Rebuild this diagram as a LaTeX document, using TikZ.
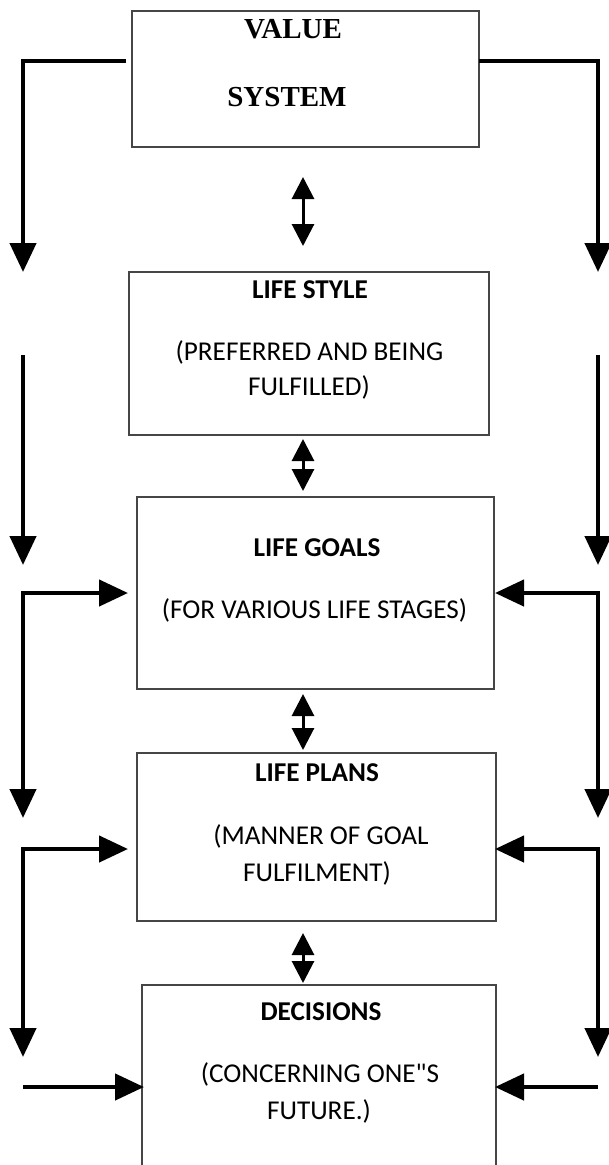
\documentclass[tikz,border=0pt]{standalone}
\usepackage{fontspec}
\newfontfamily\calfont{Carlito}
\newfontfamily\timesfont{Liberation Serif}
\usetikzlibrary{arrows.meta}
\definecolor{boxgray}{RGB}{70,70,70}
\begin{document}
\begin{tikzpicture}[x=1pt,y=-1pt,
  box/.style={draw=boxgray, line width=1.1pt, inner sep=0pt, outer sep=0pt},
  thk/.style={line width=4.4pt, line join=miter, -{Triangle[length=29pt,width=26pt]}},
  thkb/.style={line width=4.4pt, line join=miter, {Triangle[length=29pt,width=26pt]}-{Triangle[length=29pt,width=26pt]}},
  dbl/.style={line width=3pt, {Triangle[length=22pt,width=22pt]}-{Triangle[length=22pt,width=22pt]}},
  ttl/.style={font=\calfont\fontsize{27.2}{30}\selectfont\bfseries, anchor=base, inner sep=0pt},
  subt/.style={font=\calfont\fontsize{27.2}{30}\selectfont, anchor=base, inner sep=0pt},
  serift/.style={font=\timesfont\fontsize{29}{30}\selectfont\bfseries, anchor=base, inner sep=0pt}]
\useasboundingbox (0,0) rectangle (609,1165);
\clip (0,0) rectangle (609,1165);
% boxes
\node[box, minimum width=347pt, minimum height=136pt] (vs) at (305.5,79) {};
\node[box, minimum width=360pt, minimum height=163pt] (ls) at (309,353.5) {};
\node[box, minimum width=357pt, minimum height=192pt] (lg) at (315.5,593) {};
\node[box, minimum width=359pt, minimum height=168pt] (lp) at (316.5,837) {};
\node[box, minimum width=354pt, minimum height=200pt] (dc) at (319,1085) {};
% texts
\node[serift] (t1) at (293,38) {VALUE};
\node[serift] (t2) at (287,106) {SYSTEM};
\node[ttl] (t3) at (310,298) {LIFE STYLE};
\node[subt] (t4) at (309.5,360) {(PREFERRED AND BEING};
\node[subt] (t5) at (309,395) {FULFILLED)};
\node[ttl] (t6) at (317,556) {LIFE GOALS};
\node[subt] (t7) at (314.5,618) {(FOR VARIOUS LIFE STAGES)};
\node[ttl] (t8) at (317,781) {LIFE PLANS};
\node[subt] (t9) at (321,844) {(MANNER OF GOAL};
\node[subt] (t10) at (317,881) {FULFILMENT)};
\node[ttl] (t11) at (321,1020) {DECISIONS};
\node[subt] (t12) at (320,1082) {(CONCERNING ONE"S};
\node[subt] (t13) at (319,1119) {FUTURE.)};
% coordinates
\coordinate (mid) at (303,0);
\coordinate (cL0) at (23,61);   \coordinate (cR0) at (598,61);
\coordinate (eL1) at (23,272);  \coordinate (eR1) at (598,272);
\coordinate (sL2) at (23,355);  \coordinate (sR2) at (598,355);
\coordinate (eL2) at (23,565);  \coordinate (eR2) at (598,565);
\coordinate (cL3) at (23,593);  \coordinate (cR3) at (598,593);
\coordinate (eL3) at (23,818);  \coordinate (eR3) at (598,818);
\coordinate (cL4) at (23,849);  \coordinate (cR4) at (598,849);
\coordinate (eL4) at (23,1057); \coordinate (eR4) at (598,1057);
\coordinate (sL5) at (23,1087); \coordinate (sR5) at (598,1087);
% double arrows between boxes
\draw[dbl, shorten <=30pt, shorten >=26pt] (vs.south -| mid) -- (ls.north -| mid);
\draw[dbl, shorten <=4pt, shorten >=6pt] (ls.south -| mid) -- (lg.north -| mid);
\draw[dbl, shorten <=5pt, shorten >=3pt] (lg.south -| mid) -- (lp.north -| mid);
\draw[dbl, shorten <=12pt, shorten >=2pt] (lp.south -| mid) -- (dc.north -| mid);
% side connectors
\draw[thk] ([xshift=-6pt]vs.west |- cL0) -- (cL0) -- (eL1);
\draw[thk] (vs.east |- cR0) -- (cR0) -- (eR1);
\draw[thk] (sL2) -- (eL2);
\draw[thk] (sR2) -- (eR2);
\draw[thkb] ([xshift=-9pt]lg.west |- cL3) -- (cL3) -- (eL3);
\draw[thkb] ([xshift=1pt]lg.east |- cR3) -- (cR3) -- (eR3);
\draw[thkb] ([xshift=-9pt]lp.west |- cL4) -- (cL4) -- (eL4);
\draw[thkb] ([xshift=-1pt]lp.east |- cR4) -- (cR4) -- (eR4);
\draw[thk] (sL5) -- ([xshift=2pt]dc.west |- sL5);
\draw[thk] (sR5) -- ([xshift=-1pt]dc.east |- sR5);
\end{tikzpicture}
\end{document}
